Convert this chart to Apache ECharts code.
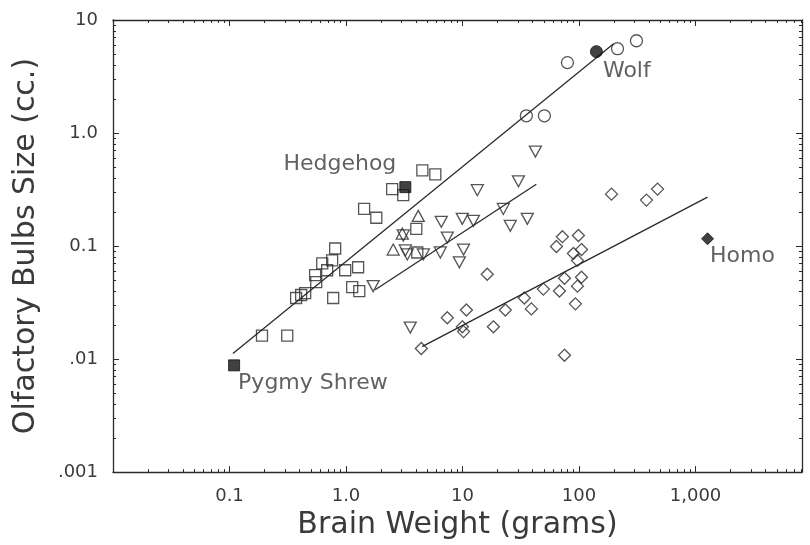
<!DOCTYPE html>
<html>
<head>
<meta charset="utf-8">
<script src="https://cdn.jsdelivr.net/npm/echarts@6/dist/echarts.min.js"></script>
<style>
html,body{margin:0;padding:0;background:#fff;}
#chart{width:810px;height:545px;}
</style>
</head>
<body>
<div id="chart"></div>
<script>
// ---- data (brain weight g, olfactory bulb size cc) ----
const insectivores = [
  [0.190,0.0161],[0.313,0.0161],[0.373,0.0347],[0.412,0.0369],[0.446,0.0384],
  [0.776,0.0347],[0.555,0.0479],[0.543,0.0552],[0.625,0.0703],[0.807,0.0951],
  [0.760,0.0746],[0.689,0.0611],[0.984,0.0611],[1.27,0.0649],[1.13,0.0433],
  [1.30,0.0400],[1.43,0.213],[1.82,0.178],[2.49,0.319],[3.10,0.282],
  [4.52,0.468],[5.84,0.431],[4.01,0.142],[4.09,0.0877]
];
const carnivores = [
  [79.5,4.20],[35.3,1.42],[50.4,1.42],[214,5.57],[311,6.55]
];
const prosimiansDown = [
  [42.2,0.686],[30.2,0.374],[13.4,0.312],[22.4,0.213],[36.0,0.174],
  [25.7,0.151],[6.57,0.164],[9.96,0.174],[12.4,0.167],[7.40,0.119],
  [10.2,0.0931],[9.39,0.0718],[6.45,0.0877],[4.61,0.0843],[3.36,0.0843],
  [3.10,0.124],[3.56,0.0190],[1.71,0.0442],[3.23,0.0914]
];
const prosimiansUp = [
  [4.17,0.185],[2.54,0.0931],[3.04,0.129]
];
const primates = [
  [4.43,0.0124],[7.40,0.0232],[10.8,0.0272],[9.96,0.0193],[10.2,0.0175],
  [16.3,0.0563],[18.4,0.0193],[23.3,0.0272],[33.9,0.0347],[39.0,0.0278],
  [49.4,0.0416],[67.9,0.0400],[75.0,0.0519],[93.1,0.0308],[96.9,0.0442],
  [105,0.0530],[96.9,0.0746],[89.5,0.0860],[105,0.0931],[98.8,0.124],
  [72.0,0.121],[64.0,0.0990],[75.0,0.0108],[190,0.288],[379,0.255],[472,0.319]
];
const namedSquares = [['Pygmy Shrew',0.1095,0.0088],['Hedgehog',3.23,0.332]];
const namedCircle = [['Wolf',141,5.25]];
const namedDiamond = [['Homo',1268,0.116]];
const fitUpper = [[0.107,0.0112],[198,6.17]];
const fitMiddle = [[1.78,0.041],[43,0.352]];
const fitLower = [[4.5,0.0129],[1267,0.271]];

const xMajorTicks = [0.1,1,10,100,1000];
const xMajorLabels = ['0.1','1.0','10','100','1,000'];
const yMajorTicks = [0.001,0.01,0.1,1,10];
const yMajorLabels = ['.001','.01','0.1','1.0','10'];
const xDecades = [0.01,0.1,1,10,100,1000];
const yDecades = [0.001,0.01,0.1,1];
const minorMult = [2,3,4,5,6,7,8,9];

const X_MIN = 0.01, X_MAX = 8200, Y_MIN = 0.001, Y_MAX = 10;

function minorList(decades, max){
  const out = [];
  decades.forEach(d => minorMult.forEach(m => { const v = +(d*m).toPrecision(6); if (v < max) out.push(v); }));
  return out;
}
const xMinor = minorList(xDecades, X_MAX);
const yMinor = minorList(yDecades, Y_MAX);

const INK = '#2a2a2a';
const TXT = '#3a3a3a';
const FONT = 'DejaVu Sans';

function labelFor(ticks, labels){
  return v => { for (let i=0;i<ticks.length;i++){ if (Math.abs(Math.log10(v)-Math.log10(ticks[i]))<1e-6) return labels[i]; } return ''; };
}

function xAx(pos, major, withLabels){
  return {
    type:'log', logBase:10, min:X_MIN, max:X_MAX, position:pos,
    axisLine:{show:major, onZero:false, lineStyle:{color:INK,width:1.3}},
    axisTick:{show:true, inside:true, length: major?6:3, customValues: major?xMajorTicks:xMinor, lineStyle:{color:INK,width:1}},
    axisLabel: withLabels ? {show:true, customValues:xMajorTicks, formatter:labelFor(xMajorTicks,xMajorLabels), color:TXT, fontFamily:FONT, fontSize:18, margin:15} : {show:false},
    splitLine:{show:false}, minorTick:{show:false}, minorSplitLine:{show:false},
    name: withLabels ? 'Brain Weight (grams)' : '',
    nameLocation:'middle', nameGap:36,
    nameTextStyle:{color:TXT, fontFamily:FONT, fontSize:30}
  };
}
function yAx(pos, major, withLabels){
  return {
    type:'log', logBase:10, min:Y_MIN, max:Y_MAX, position:pos,
    axisLine:{show:major, onZero:false, lineStyle:{color:INK,width:1.3}},
    axisTick:{show:true, inside:true, length: major?6:3, customValues: major?yMajorTicks:yMinor, lineStyle:{color:INK,width:1}},
    axisLabel: withLabels ? {show:true, customValues:yMajorTicks, formatter:labelFor(yMajorTicks,yMajorLabels), color:TXT, fontFamily:FONT, fontSize:18, margin:15} : {show:false},
    splitLine:{show:false}, minorTick:{show:false}, minorSplitLine:{show:false},
    name: withLabels ? 'Olfactory Bulbs Size (cc.)' : '',
    nameLocation:'middle', nameGap:72, nameRotate:90,
    nameTextStyle:{color:TXT, fontFamily:FONT, fontSize:30}
  };
}

const openStyle = {color:'rgba(0,0,0,0)', borderColor:INK, borderWidth:1.3};
const filledStyle = {color:'#111', borderColor:'#111', borderWidth:1};

function labelled(arr, sym, size, pos, align){
  return {
    type:'scatter', symbol:sym, symbolSize:size, itemStyle:filledStyle, z:5,
    data: arr.map(d => ({name:d[0], value:[d[1],d[2]]})),
    label:{show:true, formatter:'{b}', position:pos, align:align, verticalAlign:'middle',
      color:TXT, fontFamily:FONT, fontSize:22}
  };
}
function fit(arr){
  return {type:'line', data:arr, showSymbol:false, symbol:'none', silent:true,
    lineStyle:{color:INK, width:1.3}, z:3};
}

const option = {
  animation:false,
  backgroundColor:'#fff',
  grid:{left:113, right:8, top:20, bottom:68, containLabel:false},
  xAxis:[xAx('bottom',true,true), xAx('bottom',false,false), xAx('top',true,false), xAx('top',false,false)],
  yAxis:[yAx('left',true,true), yAx('left',false,false), yAx('right',true,false), yAx('right',false,false)],
  series:[
    fit(fitUpper), fit(fitMiddle), fit(fitLower),
    {type:'scatter', symbol:'rect', symbolSize:11, itemStyle:openStyle, data:insectivores},
    {type:'scatter', symbol:'circle', symbolSize:12, itemStyle:openStyle, data:carnivores},
    {type:'scatter', symbol:'triangle', symbolRotate:180, symbolSize:[12,11], itemStyle:openStyle, data:prosimiansDown},
    {type:'scatter', symbol:'triangle', symbolSize:[12,11], itemStyle:openStyle, data:prosimiansUp},
    {type:'scatter', symbol:'diamond', symbolSize:12, itemStyle:openStyle, data:primates},
    Object.assign(labelled(namedSquares.slice(0,1),'rect',11,[10,24],'left')),
    Object.assign(labelled(namedSquares.slice(1,2),'rect',11,[-3,-17],'right')),
    labelled(namedCircle,'circle',12,[13,26],'left'),
    labelled(namedDiamond,'diamond',12,[9,24],'left')
  ]
};
const chart = echarts.init(document.getElementById('chart'), null, {renderer:'canvas'});
chart.setOption(option);
</script>
</body>
</html>
